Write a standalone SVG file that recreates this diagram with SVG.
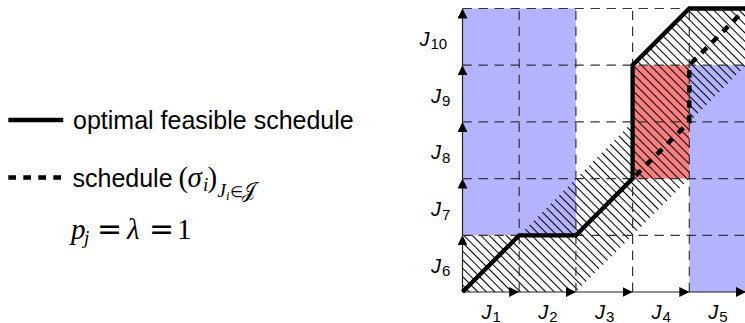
<svg xmlns="http://www.w3.org/2000/svg" width="745" height="323" viewBox="0 0 745 323">
<style>
.sans{font-family:"Liberation Sans",Arial,sans-serif;fill:#000}
.lab{font-family:"Liberation Sans",Arial,sans-serif;font-style:italic;font-size:20px;fill:#000}
.sub{font-style:normal;font-size:15px}
.math{font-family:"Liberation Serif","Times New Roman",serif;fill:#000}
.it{font-style:italic}
.grid{fill:none;stroke:#333;stroke-width:1.2;stroke-dasharray:9.3 6.7}
.axis{fill:none;stroke:#222;stroke-width:1.2;marker-end:url(#ah)}
.opt{fill:none;stroke:#000;stroke-width:4.3;stroke-linejoin:miter}
.sig{fill:none;stroke:#000;stroke-width:4.5;stroke-dasharray:7.5 7.5}
</style>
<defs>
<marker id="ah" viewBox="0 0 10 10" markerWidth="10" markerHeight="10" refX="10" refY="5" orient="auto" markerUnits="userSpaceOnUse">
<path d="M0,0 L10,5 L0,10 z" fill="#000"/>
</marker>
<pattern id="hatch" patternUnits="userSpaceOnUse" width="6" height="6" patternTransform="rotate(45)">
<rect x="0" y="0" width="6" height="1.05" fill="#000"/>
</pattern>
</defs>

<g id="legend">
<path d="M8.3,120 H63.3" class="opt"/>
<text class="sans" x="73" y="129.3" font-size="25">optimal feasible schedule</text>
<path d="M8.3,177.5 H61.2" fill="none" stroke="#000" stroke-width="4.5" stroke-dasharray="7.7 7.3"/>
<text class="sans" x="72.5" y="187" font-size="25">schedule</text>
<text class="math" y="187" font-size="29"><tspan x="178.5">(</tspan><tspan class="it" x="187.5">σ</tspan><tspan class="it" x="203" y="191" font-size="19">i</tspan><tspan x="207.5" y="187">)</tspan><tspan class="it" x="217.5" y="197" font-size="19">J</tspan><tspan class="it" x="226" y="200" font-size="13">i</tspan><tspan x="230" y="197" font-size="15" font-family="DejaVu Sans,sans-serif">∈</tspan><tspan x="242" y="197" font-size="20" font-family="DejaVu Sans,Noto Sans,serif">𝒥</tspan></text>
<text class="math" y="239" font-size="29"><tspan class="it" x="71">p</tspan><tspan class="it" x="84" y="244" font-size="19">j</tspan><tspan x="97" y="239" font-size="30" font-family="DejaVu Sans,sans-serif">=</tspan><tspan class="it" x="127">λ</tspan><tspan x="149" font-size="30" font-family="DejaVu Sans,sans-serif">=</tspan><tspan x="177">1</tspan></text>
</g>

<g id="regions">
<rect x="462.5" y="8.5" width="113.4" height="226.8" fill="#b3b3ff"/>
<rect x="689.3" y="65.2" width="60" height="226.8" fill="#b3b3ff"/>
<rect x="632.6" y="65.2" width="56.7" height="113.4" fill="#ff8080"/>
<polygon id="band" points="462.5,292 462.5,235.3 519.2,235.3 632.6,121.9 632.6,65.2 689.3,8.5 775,8.5 775,65.2 746,65.2 689.3,121.9 689.3,178.6 575.9,292" fill="url(#hatch)"/>
</g>

<g id="grid">
<path class="grid" d="M462.5,235.3 H750 M462.5,178.6 H750 M462.5,121.9 H750 M462.5,65.2 H750 M462.5,8.5 H750"/>
<path class="grid" d="M519.2,292 V8.5 M575.9,292 V8.5 M632.6,292 V8.5 M689.3,292 V8.5 M746,292 V8.5"/>
</g>

<g id="connectors">
<path class="axis" d="M462.5,292 H519.2"/>
<path class="axis" d="M519.2,292 H575.9"/>
<path class="axis" d="M575.9,292 H632.6"/>
<path class="axis" d="M632.6,292 H689.3"/>
<path class="axis" d="M689.3,292 H746"/>
<path class="axis" d="M462.5,292 V235.3"/>
<path class="axis" d="M462.5,235.3 V178.6"/>
<path class="axis" d="M462.5,178.6 V121.9"/>
<path class="axis" d="M462.5,121.9 V65.2"/>
<path class="axis" d="M462.5,65.2 V8.5"/>
<path id="optimal" class="opt" d="M462.5,292 L519.2,235.3 L575.9,235.3 L632.6,178.6 L632.6,65.2 L689.3,8.5 L760,8.5"/>
<path id="sigma" class="sig" stroke-dashoffset="-4.3" d="M632.6,178.6 L689.3,121.9 L689.3,65.2 L760,-5.5"/>
</g>

<g id="labels">
<text class="lab" x="481.5" y="318.8">J<tspan class="sub" dx="1" dy="3">1</tspan></text>
<text class="lab" x="538.2" y="318.8">J<tspan class="sub" dx="1" dy="3">2</tspan></text>
<text class="lab" x="594.9" y="318.8">J<tspan class="sub" dx="1" dy="3">3</tspan></text>
<text class="lab" x="651.6" y="318.8">J<tspan class="sub" dx="1" dy="3">4</tspan></text>
<text class="lab" x="708.3" y="318.8">J<tspan class="sub" dx="1" dy="3">5</tspan></text>
<text class="lab" x="431" y="272.7">J<tspan class="sub" dx="1" dy="3.5">6</tspan></text>
<text class="lab" x="431" y="216">J<tspan class="sub" dx="1" dy="3.5">7</tspan></text>
<text class="lab" x="431" y="159.3">J<tspan class="sub" dx="1" dy="3.5">8</tspan></text>
<text class="lab" x="431" y="102.6">J<tspan class="sub" dx="1" dy="3.5">9</tspan></text>
<text class="lab" x="419.5" y="45.9">J<tspan class="sub" dx="1" dy="3.5">10</tspan></text>
</g>
</svg>
